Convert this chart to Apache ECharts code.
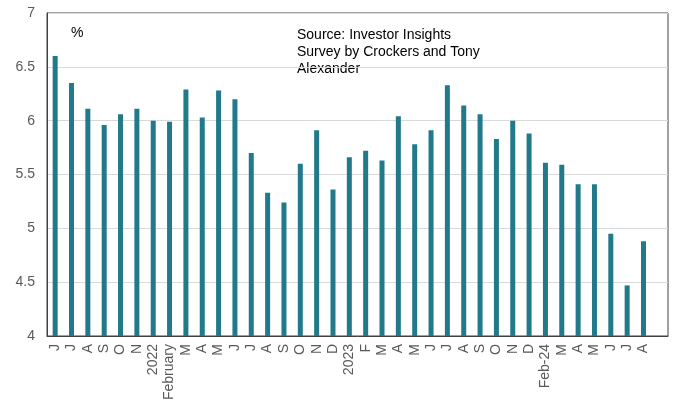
<!DOCTYPE html>
<html>
<head>
<meta charset="utf-8">
<script src="https://cdn.jsdelivr.net/npm/echarts@6/dist/echarts.min.js"></script>
<style>
html,body{margin:0;padding:0;background:#fff;}
#chart{width:677px;height:404px;}
</style>
</head>
<body>
<div id="chart"></div>
<script>
const categories = ['J','J','A','S','O','N','2022','February','M','A','M','J','J','A','S','O','N','D','2023','F','M','A','M','J','J','A','S','O','N','D','Feb-24','M','A','M','J','J','A',''];
const values = [6.60,6.35,6.11,5.96,6.06,6.11,6.00,5.99,6.29,6.03,6.28,6.20,5.70,5.33,5.24,5.60,5.91,5.36,5.66,5.72,5.63,6.04,5.78,5.91,6.33,6.14,6.06,5.83,6.00,5.88,5.61,5.59,5.41,5.41,4.95,4.47,4.88,null];
const yTicks = [4,4.5,5,5.5,6,6.5,7];
const unitText = '%';
const sourceText = 'Source: Investor Insights\nSurvey by Crockers and Tony\nAlexander';

const chart = echarts.init(document.getElementById('chart'), null, {renderer:'canvas'});
chart.setOption({
  animation:false,
  backgroundColor:'#fff',
  textStyle:{fontFamily:'Liberation Sans, Arial, sans-serif'},
  grid:{left:47,right:9,top:13,bottom:68,show:true,borderColor:'#404040',borderWidth:1},
  graphic:[
    {type:'text',left:71,top:26,style:{text:unitText,fontSize:14,fill:'#000',fontFamily:'Liberation Sans, Arial'}},
    {type:'text',left:297,top:27,style:{text:sourceText,fontSize:14,lineHeight:17,fill:'#000',fontFamily:'Liberation Sans, Arial'}}
  ],
  xAxis:{
    type:'category',data:categories,
    axisLine:{show:true,lineStyle:{color:'#404040'}},
    axisTick:{show:false},
    axisLabel:{interval:0,rotate:90,fontSize:14,color:'#595959',margin:8,fontFamily:'Liberation Sans, Arial'}
  },
  yAxis:{
    type:'value',min:yTicks[0],max:yTicks[yTicks.length-1],interval:0.5,
    axisLine:{show:true,lineStyle:{color:'#404040'}},
    axisTick:{show:false},
    axisLabel:{fontSize:14,color:'#595959',margin:12,fontFamily:'Liberation Sans, Arial',formatter:v=>String(v)},
    splitLine:{lineStyle:{color:'#d9d9d9',width:1}}
  },
  series:[{type:'bar',data:values,barWidth:5,itemStyle:{color:'#21798A'}}]
});
</script>
</body>
</html>
